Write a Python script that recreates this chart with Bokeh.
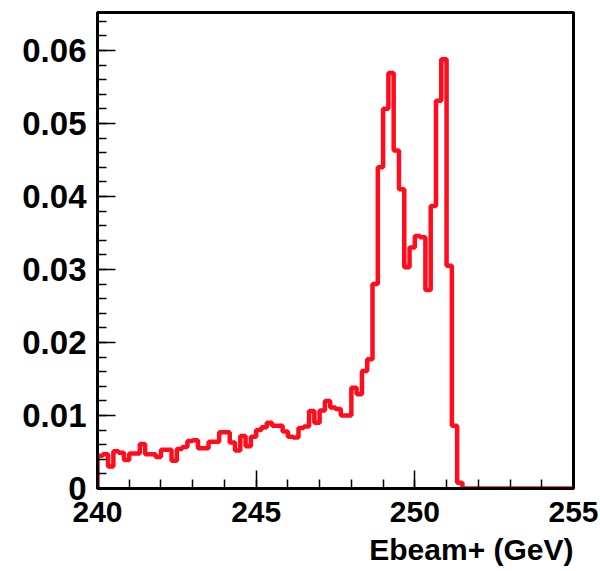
from bokeh.plotting import figure
from bokeh.models import FixedTicker, Title, Range1d
from bokeh.embed import file_html
from bokeh.resources import INLINE

# ---- data -------------------------------------------------------------
x_min = 240.0
x_max = 255.0
n_bins = 90
bin_contents = [
    0.0045, 0.0047, 0.0030, 0.0051, 0.0049, 0.0039, 0.0048, 0.0048, 0.0061, 0.0047,
    0.0047, 0.0043, 0.0053, 0.0053, 0.0038, 0.0054, 0.0057, 0.0065, 0.0066, 0.0055,
    0.0055, 0.0064, 0.0064, 0.0077, 0.0077, 0.0063, 0.0052, 0.0072, 0.0058, 0.0071,
    0.0080, 0.0084, 0.0090, 0.0086, 0.0086, 0.0078, 0.0071, 0.0070, 0.0083, 0.0085,
    0.0106, 0.0090, 0.0107, 0.0120, 0.0111, 0.0109, 0.0100, 0.0100, 0.0138, 0.0129,
    0.0161, 0.0177, 0.0280, 0.0440, 0.0520, 0.0569, 0.0463, 0.0410, 0.0303, 0.0330,
    0.0346, 0.0344, 0.0272, 0.0387, 0.0531, 0.0588, 0.0305, 0.0086, 0.0008, 0.0,
    0.0, 0.0, 0.0, 0.0, 0.0, 0.0, 0.0, 0.0, 0.0, 0.0,
    0.0, 0.0, 0.0, 0.0, 0.0, 0.0, 0.0, 0.0, 0.0, 0.0,
]
y_max = 0.0652
y_ticks = [0.0, 0.01, 0.02, 0.03, 0.04, 0.05, 0.06]
y_tick_labels = ["0", "0.01", "0.02", "0.03", "0.04", "0.05", "0.06"]
x_ticks = [240, 245, 250, 255]
x_tick_labels = ["240", "245", "250", "255"]
x_title = "Ebeam+ (GeV)"

# ---- histogram outline from bin contents ---------------------------------
bw = (x_max - x_min) / n_bins
xs = [x_min]
ys = [0.0]
for i, c in enumerate(bin_contents):
    lo = x_min + i * bw
    xs += [lo, lo + bw]
    ys += [c, c]

p = figure(width=600, height=571,
           x_range=Range1d(x_min, x_max), y_range=Range1d(0, y_max),
           output_backend="svg", toolbar_location=None,
           min_border_left=97, min_border_right=27,
           min_border_top=12, min_border_bottom=83)
p.grid.visible = False
p.background_fill_color = "white"
p.border_fill_color = "white"
p.outline_line_color = "black"
p.outline_line_width = 3

p.line(xs, ys, line_color="#ff0d1d", line_width=4.5)

font = "Liberation Sans"
for ax in (p.xaxis[0], p.yaxis[0]):
    ax.axis_line_color = "black"
    ax.axis_line_width = 3
    ax.major_tick_in = 18
    ax.major_tick_out = 0
    ax.minor_tick_in = 9
    ax.minor_tick_out = 0
    ax.major_tick_line_width = 1.5
    ax.minor_tick_line_width = 1.5
    ax.major_tick_line_color = "black"
    ax.minor_tick_line_color = "black"
    ax.major_label_text_font = font
    ax.major_label_text_font_style = "bold"
    ax.major_label_text_color = "black"

p.yaxis.major_label_text_font_size = "33px"
p.xaxis.major_label_text_font_size = "30px"

p.yaxis.ticker = FixedTicker(ticks=y_ticks,
                             minor_ticks=[i * 0.002 for i in range(33)])
p.yaxis.major_label_overrides = {t: l for t, l in zip(y_ticks, y_tick_labels)}
p.yaxis.major_label_standoff = 11

p.xaxis.ticker = FixedTicker(ticks=x_ticks,
                             minor_ticks=[x_min + i for i in range(16)])
p.xaxis.major_label_overrides = {t: l for t, l in zip(x_ticks, x_tick_labels)}
p.xaxis.major_label_standoff = 13

t = Title(text=x_title, align="right", text_font=font, standoff=12,
          text_font_size="30px", text_font_style="bold", text_color="black")
p.add_layout(t, "below")

open("out.html", "w").write(file_html(p, INLINE))
